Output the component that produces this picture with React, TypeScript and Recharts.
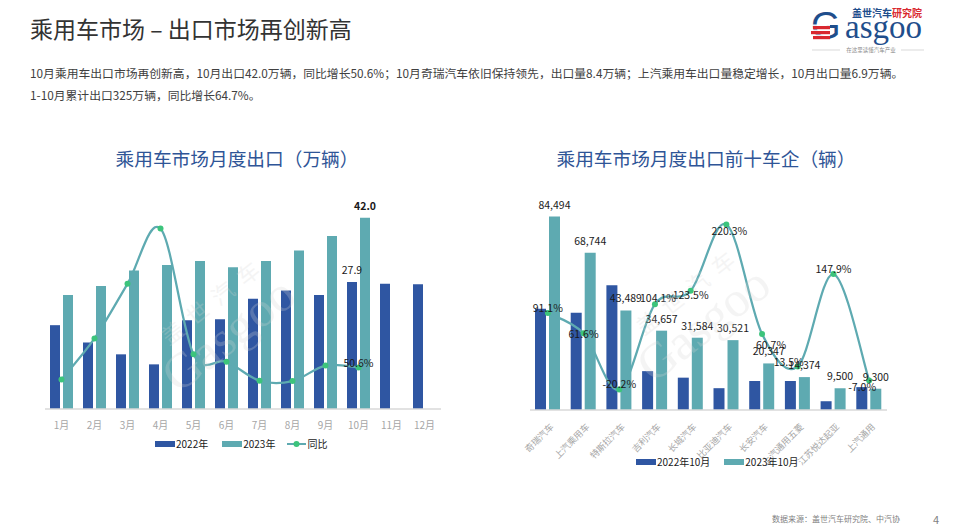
import React from 'react';
import { ComposedChart, Bar, Line, XAxis, YAxis, Legend, LabelList } from 'recharts';

// ---------- data ----------
const months = ['1月', '2月', '3月', '4月', '5月', '6月', '7月', '8月', '9月', '10月', '11月', '12月'];
const export2022 = [18.4, 14.6, 12.0, 9.8, 19.5, 19.7, 24.2, 26.0, 25.0, 27.9, 27.5, 27.4];
const export2023: (number | null)[] = [25.0, 27.0, 30.4, 31.6, 32.5, 31.1, 32.5, 34.8, 38.0, 42.0, null, null];
const exportYoy: (number | null)[] = [36.0, 86.0, 152.6, 220.0, 66.7, 57.6, 34.5, 34.0, 53.0, 50.6, null, null];

const makers = ['奇瑞汽车', '上汽乘用车', '特斯拉汽车', '吉利汽车', '长城汽车', '比亚迪汽车', '长安汽车', '上汽通用五菱', '江苏悦达起亚', '上汽通用'];
const maker2022 = [44215, 42540, 54498, 16980, 14131, 9529, 12662, 12664, 3832, 10000];
const maker2023 = [84494, 68744, 43489, 34657, 31584, 30521, 20347, 14374, 9500, 9300];
const makerYoy = [91.1, 61.6, -20.2, 104.1, 123.5, 220.3, 60.7, 13.5, 147.9, -7.0];

const monthData = months.map((m, i) => ({ month: m, y2022: export2022[i], y2023: export2023[i], yoy: exportYoy[i] }));
const makerData = makers.map((m, i) => ({ maker: m, y2022: maker2022[i], y2023: maker2023[i], yoy: makerYoy[i] }));

// ---------- style ----------
const FONT = '"Noto Sans CJK SC", "Noto Sans", sans-serif';
const BLUE = '#2F56A2';
const TEAL = '#5EAAB1';
const DOT = '#3CC47C';
const AXIS = '#D9D9D9';
const TITLE = '#2F5597';

// label placement nudges for the right chart's YoY labels (dx, dy of text centre vs point)
const makerYoyLabelNudge: [number, number][] = [
  [0, -6], [0, 0], [0, -6], [3, -7], [0, 4], [3, 6], [9, 11], [-9, -5], [0, -6], [-7, 6],
];

// Catmull-Rom style smoothing (similar to Excel smoothed lines)
function smoothCurve(context: any) {
  let pts: [number, number][] = [];
  return {
    areaStart() {},
    areaEnd() {},
    lineStart() { pts = []; },
    point(x: number, y: number) { pts.push([+x, +y]); },
    lineEnd() {
      const n = pts.length;
      if (!n) return;
      context.moveTo(pts[0][0], pts[0][1]);
      for (let i = 0; i < n - 1; i++) {
        const p0 = pts[i - 1] || pts[i];
        const p1 = pts[i];
        const p2 = pts[i + 1];
        const p3 = pts[i + 2] || p2;
        context.bezierCurveTo(
          p1[0] + (p2[0] - p0[0]) / 6, p1[1] + (p2[1] - p0[1]) / 6,
          p2[0] - (p3[0] - p1[0]) / 6, p2[1] - (p3[1] - p1[1]) / 6,
          p2[0], p2[1]
        );
      }
    },
  };
}

function pos(props: any) {
  const vb = props.viewBox || {};
  const x = (vb.x ?? props.x) + ((vb.width ?? props.width ?? 0) / 2);
  const y = vb.y ?? props.y;
  return { x, y };
}

const makeTopLabel = (fmt: (v: number) => string, onlyIndex?: number, bold?: boolean) => (props: any) => {
  if (props.value == null) return null;
  if (onlyIndex !== undefined && props.index !== onlyIndex) return null;
  const { x, y } = pos(props);
  return (
    <text x={x} y={y - 8} textAnchor="middle" fontSize={10.5} fill="#1a1a1a" fontFamily={FONT} fontWeight={bold ? 'bold' : 'normal'}>
      {fmt(props.value)}
    </text>
  );
};

const makePointLabel = (onlyIndex?: number, nudges?: [number, number][]) => (props: any) => {
  if (props.value == null) return null;
  if (onlyIndex !== undefined && props.index !== onlyIndex) return null;
  const { x, y } = pos(props);
  const [dx, dy] = nudges && nudges[props.index] ? nudges[props.index] : [0, -5];
  return (
    <text x={x + dx} y={y + dy} textAnchor="middle" dominantBaseline="central" fontSize={10.5} fill="#1a1a1a" fontFamily={FONT}>
      {Number(props.value).toFixed(1) + '%'}
    </text>
  );
};

const MakerTick = (props: any) => {
  const { x, y, payload } = props;
  const ax = x + 4;
  const ay = y + 7;
  return (
    <text x={ax} y={ay} transform={`rotate(-45 ${ax} ${ay})`} textAnchor="end" dominantBaseline="central" fontSize={9} fill="#A6A6A6" fontFamily={FONT}>
      {payload.value}
    </text>
  );
};

const LegendContent = (props: any) => {
  const { payload = [], gaps = [] } = props;
  return (
    <div style={{ display: 'flex', alignItems: 'center', fontFamily: FONT, fontSize: 10, color: '#1a1a1a', whiteSpace: 'nowrap' }}>
      {payload.map((p: any, i: number) => (
        <div key={i} style={{ display: 'flex', alignItems: 'center', marginRight: gaps[i] ?? 13 }}>
          {p.type === 'line' ? (
            <svg width={19} height={8} style={{ display: 'block' }}>
              <line x1={0} y1={4} x2={19} y2={4} stroke={TEAL} strokeWidth={2} />
              <circle cx={9.5} cy={4} r={3} fill={DOT} />
            </svg>
          ) : (
            <div style={{ width: 20, height: 6, background: p.color }} />
          )}
          <span style={{ marginLeft: 1 }}>{p.value}</span>
        </div>
      ))}
    </div>
  );
};

const Watermark = ({ cx, cy }: { cx: number; cy: number }) => (
  <svg width={954} height={531} style={{ position: 'absolute', left: 0, top: 0, pointerEvents: 'none' }}>
    <g transform={`rotate(-38 ${cx} ${cy})`} opacity={0.25} fill="#D6D6D6" fontFamily={FONT}>
      <text x={cx + 10} y={cy - 22} textAnchor="middle" fontSize={22} letterSpacing={10}>盖世汽车</text>
      <text x={cx} y={cy + 22} textAnchor="middle" fontSize={50} fontFamily='"Liberation Serif", serif'>Gasgoo</text>
    </g>
  </svg>
);

export default function App() {
  return (
    <div style={{ position: 'absolute', left: 0, top: 0, width: 954, height: 531, background: '#fff', overflow: 'hidden', fontFamily: FONT }}>
      {/* header */}
      <div style={{ position: 'absolute', left: 30, top: 12, height: 32, lineHeight: '32px', fontSize: 23, color: '#333', whiteSpace: 'nowrap' }}>
        乘用车市场 – 出口市场再创新高
      </div>
      <div style={{ position: 'absolute', left: 30, top: 62, lineHeight: '22px', fontSize: 11.8, color: '#404040', whiteSpace: 'nowrap' }}>
        10月乘用车出口市场再创新高，10月出口42.0万辆，同比增长50.6%；10月奇瑞汽车依旧保持领先，出口量8.4万辆；上汽乘用车出口量稳定增长，10月出口量6.9万辆。
      </div>
      <div style={{ position: 'absolute', left: 30, top: 84, lineHeight: '22px', fontSize: 11.8, color: '#404040', whiteSpace: 'nowrap' }}>
        1-10月累计出口325万辆，同比增长64.7%。
      </div>

      {/* logo */}
      <svg width={140} height={60} style={{ position: 'absolute', left: 800, top: 0 }}>
        <text x={52} y={17} fontSize={10} fontWeight="bold" fill="#1F4E8C" fontFamily={FONT}>盖世汽车</text>
        <text x={92} y={17} fontSize={10} fontWeight="bold" fill="#D9282F" fontFamily={FONT}>研究院</text>
        <text x={11} y={39} fontSize={38} fill="#1F4E8C" fontFamily='"Liberation Sans", sans-serif'>G</text>
        <text x={45} y={38} fontSize={33} fill="#1F4E8C" fontFamily='"Liberation Serif", serif'>asgoo</text>
        <rect x={10} y={24.5} width={20} height={1.4} fill="#fff" />
        <rect x={10} y={29.5} width={20} height={1.4} fill="#fff" />
        <rect x={10} y={34.5} width={20} height={1.4} fill="#fff" />
        <rect x={13} y={26} width={17} height={3.2} fill="#D9282F" />
        <rect x={11} y={31} width={19} height={3.2} fill="#D9282F" />
        <rect x={13} y={36} width={17} height={3.2} fill="#D9282F" />
        <line x1={12} y1={50} x2={40} y2={50} stroke="#BFBFBF" strokeWidth={0.6} />
        <line x1={101} y1={50} x2={124} y2={50} stroke="#BFBFBF" strokeWidth={0.6} />
        <text x={71} y={52} textAnchor="middle" fontSize={5.5} fill="#8c8c8c" fontFamily={FONT}>在这里读懂汽车产业</text>
      </svg>

      {/* chart titles */}
      <div style={{ position: 'absolute', left: 37, width: 400, top: 144, height: 28, lineHeight: '28px', textAlign: 'center', fontSize: 18.7, color: TITLE, whiteSpace: 'nowrap' }}>
        乘用车市场月度出口（万辆）
      </div>
      <div style={{ position: 'absolute', left: 506, width: 400, top: 144, height: 28, lineHeight: '28px', textAlign: 'center', fontSize: 18.7, color: TITLE, whiteSpace: 'nowrap' }}>
        乘用车市场月度出口前十车企（辆）
      </div>

      {/* left chart */}
      <div style={{ position: 'absolute', left: 0, top: 0 }}>
        <ComposedChart width={460} height={470} data={monthData} margin={{ top: 204, right: 19, bottom: 31, left: 45 }} barSize={10} barGap={3}>
          <XAxis dataKey="month" axisLine={{ stroke: AXIS, strokeWidth: 1.5 }} tickLine={false} interval={0} height={30} tickMargin={7}
            tick={{ fill: '#A6A6A6', fontSize: 10, fontFamily: FONT }} />
          <YAxis yAxisId="v" hide domain={[0, 45]} />
          <YAxis yAxisId="p" hide domain={[0, 250]} orientation="right" />
          <Bar yAxisId="v" dataKey="y2022" name="2022年" fill={BLUE} isAnimationActive={false}>
            <LabelList dataKey="y2022" content={makeTopLabel((v) => v.toFixed(1), 9)} />
          </Bar>
          <Bar yAxisId="v" dataKey="y2023" name="2023年" fill={TEAL} isAnimationActive={false}>
            <LabelList dataKey="y2023" content={makeTopLabel((v) => v.toFixed(1), 9, true)} />
          </Bar>
          <Line yAxisId="p" dataKey="yoy" name="同比" type={smoothCurve as any} stroke={TEAL} strokeWidth={2.25}
            dot={{ r: 3, fill: DOT, stroke: DOT, strokeWidth: 0 }} activeDot={false} isAnimationActive={false} legendType="line">
            <LabelList dataKey="yoy" content={makePointLabel(9)} />
          </Line>
          <Legend verticalAlign="middle" align="center" layout="horizontal"
            wrapperStyle={{ position: 'absolute', left: 155, top: 436, width: 220, height: 14 }}
            content={(p: any) => <LegendContent {...p} gaps={[14, 12, 0]} />} />
        </ComposedChart>
      </div>

      {/* right chart */}
      <div style={{ position: 'absolute', left: 480, top: 0 }}>
        <ComposedChart width={440} height={480} data={makerData} margin={{ top: 204, right: 33, bottom: 20, left: 50 }} barSize={11} barGap={3}>
          <XAxis dataKey="maker" axisLine={{ stroke: AXIS, strokeWidth: 1.5 }} tickLine={false} interval={0} height={50}
            tick={<MakerTick />} />
          <YAxis yAxisId="v" hide domain={[0, 90000]} />
          <YAxis yAxisId="p" hide domain={[-50, 250]} orientation="right" />
          <Bar yAxisId="v" dataKey="y2022" name="2022年10月" fill={BLUE} isAnimationActive={false} />
          <Bar yAxisId="v" dataKey="y2023" name="2023年10月" fill={TEAL} isAnimationActive={false}>
            <LabelList dataKey="y2023" content={makeTopLabel((v) => v.toLocaleString('en-US'))} />
          </Bar>
          <Line yAxisId="p" dataKey="yoy" name="同比" type={smoothCurve as any} stroke={TEAL} strokeWidth={2.25}
            dot={{ r: 3, fill: DOT, stroke: DOT, strokeWidth: 0 }} activeDot={false} isAnimationActive={false} legendType="none">
            <LabelList dataKey="yoy" content={makePointLabel(undefined, makerYoyLabelNudge)} />
          </Line>
          <Legend verticalAlign="middle" align="center" layout="horizontal"
            wrapperStyle={{ position: 'absolute', left: 156, top: 454, width: 200, height: 14 }}
            content={(p: any) => <LegendContent {...p} payload={(p.payload || []).filter((x: any) => x.type !== 'none')} gaps={[14, 0]} />} />
        </ComposedChart>
      </div>

      <Watermark cx={225} cy={330} />
      <Watermark cx={700} cy={320} />

      {/* footer */}
      <div style={{ position: 'absolute', left: 772, top: 512, lineHeight: '14px', fontSize: 8, color: '#7F7F7F', whiteSpace: 'nowrap' }}>
        数据来源：盖世汽车研究院、中汽协
      </div>
      <div style={{ position: 'absolute', left: 933, top: 511, lineHeight: '16px', fontSize: 11, color: '#7F7F7F' }}>4</div>
    </div>
  );
}
